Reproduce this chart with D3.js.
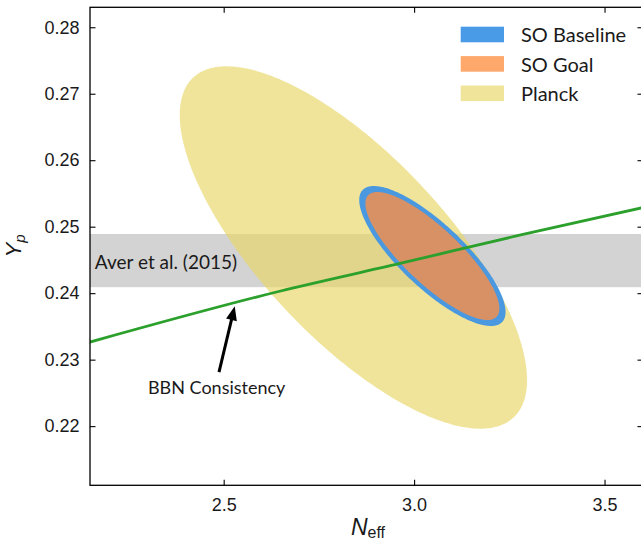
<!DOCTYPE html>
<html><head><meta charset="utf-8">
<script src="https://cdn.jsdelivr.net/npm/d3@7"></script>
<style>body{margin:0;background:#fff}</style>
</head><body>
<svg id="chart" width="641" height="541"></svg>
<script>
// ---------- data ----------
const xDomain = [2.149, 3.601];
const yDomain = [0.2111, 0.2830];
const xTicks = [2.5, 3.0, 3.5];
const xTickLabels = ["2.5", "3.0", "3.5"];
const yTicks = [0.22, 0.23, 0.24, 0.25, 0.26, 0.27, 0.28];
const yTickLabels = ["0.22", "0.23", "0.24", "0.25", "0.26", "0.27", "0.28"];

const ellipseNames = ["Planck", "SO Baseline", "SO Goal"];
const ellipseCenterNeff = [2.8406, 3.048, 3.048];
const ellipseCenterYp = [0.24687, 0.24559, 0.24559];
const ellipseHalfWidthNeff = [0.456, 0.1921, 0.1759];
const ellipseHalfHeightYp = [0.02726, 0.01053, 0.00963];
const ellipseCorrelation = [-0.731, -0.80, -0.82];

const averBand = [0.2409, 0.2489];           // Aver et al. (2015) Yp range
const averLabel = "Aver et al. (2015)";

const bbnNeff = [2.149, 2.647, 2.963, 3.277, 3.601];
const bbnYp   = [0.23265, 0.24029, 0.24447, 0.24872, 0.25287];

const arrowFrom = [2.4877, 0.22813];
const arrowTo   = [2.529, 0.23803];
const bbnLabel = "BBN Consistency";
const bbnLabelPos = [2.4816, 0.22488];
const averLabelPos = [2.1618, 0.2437];

const legendNames = ["SO Baseline", "SO Goal", "Planck"];

// ---------- layout ----------
const svg = d3.select("#chart");
const L = 90, R = 643, T = 7.3, B = 485.3;
const x = d3.scaleLinear().domain(xDomain).range([L, R]);
const y = d3.scaleLinear().domain(yDomain).range([B, T]);

const fills = {
  "Planck": "rgba(232,214,103,0.66)",
  "SO Baseline": "rgb(73,152,224)",
  "SO Goal": "rgba(255,144,67,0.78)"
};
const legendFills = {
  "Planck": "rgba(232,214,103,0.66)",
  "SO Baseline": "rgb(73,155,232)",
  "SO Goal": "rgba(255,144,67,0.78)"
};

svg.append("defs").append("clipPath").attr("id","clip")
  .append("rect").attr("x",L).attr("y",T).attr("width",R-L).attr("height",B-T);
const plot = svg.append("g").attr("clip-path","url(#clip)");

// Aver band (drawn first; Planck is translucent over it)
plot.append("rect")
  .attr("x", L).attr("width", R - L)
  .attr("y", y(averBand[1])).attr("height", y(averBand[0]) - y(averBand[1]))
  .attr("fill", "#d3d3d3");

function ellipsePoints(i) {
  const n = 240, pts = [];
  const r = ellipseCorrelation[i], s = Math.sqrt(1 - r * r);
  for (let k = 0; k <= n; k++) {
    const t = 2 * Math.PI * k / n;
    const nv = ellipseCenterNeff[i] + ellipseHalfWidthNeff[i] * Math.cos(t);
    const yv = ellipseCenterYp[i] + ellipseHalfHeightYp[i] * (r * Math.cos(t) + s * Math.sin(t));
    pts.push([x(nv), y(yv)]);
  }
  return pts;
}
const lineGen = d3.line();
ellipseNames.forEach((name, i) => {
  plot.append("path").attr("d", lineGen(ellipsePoints(i)) + "Z")
    .attr("fill", fills[name]).attr("stroke", "none");
});

// BBN consistency line
plot.append("path")
  .datum(bbnNeff.map((n, i) => [n, bbnYp[i]]))
  .attr("d", d3.line().x(d => x(d[0])).y(d => y(d[1])).curve(d3.curveMonotoneX))
  .attr("fill", "none").attr("stroke", "#2ca02c").attr("stroke-width", 2.8);

// annotation text
plot.append("text").attr("x", x(averLabelPos[0])).attr("y", y(averLabelPos[1]))
  .attr("font-family", "Lato, 'Open Sans', sans-serif").attr("font-size", 19)
  .attr("fill", "#1a1a1a").text(averLabel);

svg.append("text").attr("x", x(bbnLabelPos[0])).attr("y", y(bbnLabelPos[1]))
  .attr("text-anchor", "middle")
  .attr("font-family", "Lato, 'Open Sans', sans-serif").attr("font-size", 18)
  .attr("fill", "#1a1a1a").text(bbnLabel);

// arrow
{
  const x0 = x(arrowFrom[0]), y0 = y(arrowFrom[1]);
  const x1 = x(arrowTo[0]), y1 = y(arrowTo[1]);
  const dx = x1 - x0, dy = y1 - y0, len = Math.hypot(dx, dy);
  const ux = dx / len, uy = dy / len;
  const hl = 14, hw = 5.5;
  const bx = x1 - ux * hl, by = y1 - uy * hl;
  svg.append("line").attr("x1", x0).attr("y1", y0).attr("x2", bx + ux * 2).attr("y2", by + uy * 2)
    .attr("stroke", "#000").attr("stroke-width", 3);
  svg.append("path")
    .attr("d", `M${x1},${y1}L${bx - uy * hw},${by + ux * hw}L${bx + uy * hw},${by - ux * hw}Z`)
    .attr("fill", "#000");
}

// axes
const tickFont = "'Liberation Sans', Arial, sans-serif";
const gL = svg.append("g").attr("transform", `translate(${L},0)`)
  .call(d3.axisLeft(y).tickValues(yTicks).tickFormat((d, i) => yTickLabels[i]).tickSizeInner(-5.5).tickSizeOuter(0).tickPadding(10.5));
const gB = svg.append("g").attr("transform", `translate(0,${B})`)
  .call(d3.axisBottom(x).tickValues(xTicks).tickFormat((d, i) => xTickLabels[i]).tickSizeInner(-5.5).tickSizeOuter(0).tickPadding(12.7));
const gR = svg.append("g").attr("transform", `translate(${R},0)`)
  .call(d3.axisRight(y).tickValues(yTicks).tickFormat("").tickSizeInner(-5.5).tickSizeOuter(0));
const gT = svg.append("g").attr("transform", `translate(0,${T})`)
  .call(d3.axisTop(x).tickValues(xTicks).tickFormat("").tickSizeInner(-5.5).tickSizeOuter(0));
[gL, gB, gR, gT].forEach(g => {
  g.select(".domain").remove();
  g.selectAll(".tick line").attr("stroke", "#000").attr("stroke-width", 1.1);
  g.selectAll("text").attr("font-family", tickFont).attr("font-size", 18).attr("fill", "#1a1a1a");
});

svg.append("rect").attr("x", L).attr("y", T).attr("width", R - L).attr("height", B - T)
  .attr("fill", "none").attr("stroke", "#000").attr("stroke-width", 1.3);

// axis labels
const xl = svg.append("text").attr("x", 368).attr("y", 535).attr("text-anchor", "middle")
  .attr("font-family", tickFont).attr("font-size", 23).attr("fill", "#1a1a1a");
xl.append("tspan").attr("font-style", "italic").text("N");
xl.append("tspan").attr("font-size", 16).attr("dy", 3).text("eff");

const yl = svg.append("text").attr("transform", "translate(21,246) rotate(-90)").attr("text-anchor", "middle")
  .attr("font-family", tickFont).attr("font-size", 22).attr("fill", "#1a1a1a");
yl.append("tspan").attr("font-style", "italic").text("Y");
yl.append("tspan").attr("font-style", "italic").attr("font-size", 15).attr("dy", 4).text("p");

// legend
const leg = svg.append("g");
legendNames.forEach((name, i) => {
  const yy = 26.7 + i * 29.4;
  leg.append("rect").attr("x", 460.7).attr("y", yy).attr("width", 43.3).attr("height", 15.6)
    .attr("fill", legendFills[name]);
  leg.append("text").attr("x", 521).attr("y", yy + 15.4)
    .attr("font-family", "Lato, 'Open Sans', sans-serif").attr("font-size", 20)
    .attr("fill", "#1a1a1a").text(name);
});
</script>
</body></html>
